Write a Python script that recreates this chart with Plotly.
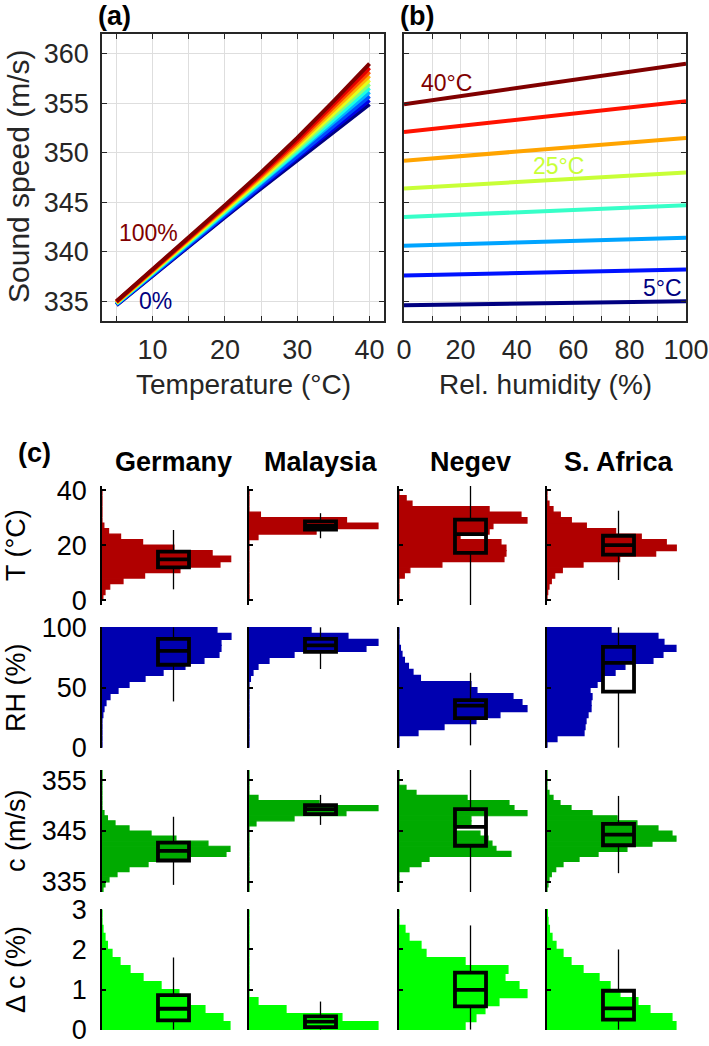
import plotly.graph_objects as go

W, H = 709, 1046
FONT = "Liberation Sans, Arial, sans-serif"
AXC = "#262626"

# ---------------- data: panels (a) and (b) ----------------
RH_LEVELS = [0, 10, 20, 30, 40, 50, 60, 70, 80, 90, 100]          # %
T_LEVELS = [5, 10, 15, 20, 25, 30, 35, 40]                         # degC
# sound speed (m/s): one row per RH level, one value per temperature
SPEED_BY_RH = [
    [334.60, 337.60, 340.60, 343.50, 346.40, 349.20, 352.10, 354.90],
    [334.64, 337.66, 340.68, 343.62, 346.56, 349.43, 352.41, 355.31],
    [334.68, 337.72, 340.76, 343.74, 346.72, 349.66, 352.72, 355.72],
    [334.72, 337.78, 340.84, 343.86, 346.88, 349.89, 353.03, 356.13],
    [334.76, 337.84, 340.92, 343.98, 347.04, 350.12, 353.34, 356.54],
    [334.80, 337.90, 341.00, 344.10, 347.20, 350.35, 353.65, 356.95],
    [334.84, 337.96, 341.08, 344.22, 347.36, 350.58, 353.96, 357.36],
    [334.88, 338.02, 341.16, 344.34, 347.52, 350.81, 354.27, 357.77],
    [334.92, 338.08, 341.24, 344.46, 347.68, 351.04, 354.58, 358.18],
    [334.96, 338.14, 341.32, 344.58, 347.84, 351.27, 354.89, 358.59],
    [335.00, 338.20, 341.40, 344.70, 348.00, 351.50, 355.20, 359.00],
]

# ---------------- data: panel (c) ----------------
COUNTRIES = ["Germany", "Malaysia", "Negev", "S. Africa"]

T_CENTERS = [1, 3, 5, 7, 9, 11, 13, 15, 17, 19, 21, 23, 25, 27, 29, 31, 33, 35, 37, 39]
T_HIST = {
    "Germany":   [0.6, 2.1, 5.4, 14.7, 29.8, 54.5, 82.5, 90, 77, 50.3, 28.4, 13, 4.6, 1.3, 0, 0, 0, 0, 0, 0],
    "Malaysia":  [0, 0, 0, 0, 0, 0, 0, 0, 0, 0, 0, 6.3, 46.9, 90.2, 68.2, 8, 0, 0, 0, 0],
    "Negev":     [0, 0, 0, 0, 3.7, 7.6, 30, 73.4, 74.8, 74.8, 71.3, 42.7, 63, 65.7, 89.5, 85.3, 63, 9.1, 5, 0],
    "S. Africa": [0, 0.5, 1.4, 3, 5.4, 10.7, 25.2, 50.8, 76, 90.4, 83.4, 65.9, 48, 27.5, 17, 9.3, 4.2, 1.4, 0, 0],
}
RH_CENTERS = [2.5, 7.5, 12.5, 17.5, 22.5, 27.5, 32.5, 37.5, 42.5, 47.5,
              52.5, 57.5, 62.5, 67.5, 72.5, 77.5, 82.5, 87.5, 92.5, 97.5]
RH_HIST = {
    "Germany":   [0, 0, 0, 0, 0, 0.6, 1.4, 2.8, 5.6, 11.2, 18.9, 30.1, 42.7, 58, 71.3, 81.8, 83.2, 83.2, 90.2, 80.4],
    "Malaysia":  [0, 0, 0, 0, 0, 0, 0, 0, 0, 0, 0, 1, 2.8, 6.3, 14, 31.5, 81.8, 90.2, 69.2, 43.4],
    "Negev":     [0, 0, 13.3, 31.5, 53.8, 70.6, 89.5, 86, 79.7, 54.5, 50.3, 15, 9.8, 6.6, 3.8, 2.1, 1, 0, 0, 0],
    "S. Africa": [0, 7, 25.9, 26.6, 27.3, 28.7, 30.8, 30.8, 31.5, 30.1, 35, 38.5, 47.6, 54.5, 74.1, 81.1, 90.2, 81.8, 77.6, 44.8],
}
C_CENTERS = [333.5 + i for i in range(24)]
C_HIST = {
    "Germany":   [0.7, 2.1, 4.9, 10.5, 18.9, 32.2, 60.8, 86.7, 89.5, 74.1, 51.7, 34.3, 18.9, 9.1, 3.8, 1.4,
                  0, 0, 0, 0, 0, 0, 0, 0],
    "Malaysia":  [0, 0, 0, 0, 0, 0, 0, 0, 0, 0, 0, 0, 0, 4.9, 31.5, 67.8, 90.2, 49, 6.3, 0, 0, 0, 0, 0],
    "Negev":     [0, 0, 0, 0, 7, 15.4, 21, 78.3, 67.8, 65, 62.2, 56.6, 37.8, 50.3, 50.3, 89.5, 80.4, 76.9,
                  47.6, 11.9, 4.9, 0, 0, 0],
    "S. Africa": [0, 0.7, 1.4, 3, 6.1, 11.2, 22.4, 35.7, 55.9, 73.4, 90.2, 87.4, 77.6, 62.9, 49, 31.5,
                  16.8, 9.1, 4.2, 1.4, 0, 0, 0, 0],
}
DC_CENTERS = [0.1, 0.3, 0.5, 0.7, 0.9, 1.1, 1.3, 1.5, 1.7, 1.9, 2.1, 2.3, 2.5, 2.7, 2.9]
DC_HIST = {
    "Germany":   [89.5, 84.6, 72, 60.1, 53.8, 41.3, 28.7, 19.6, 12.6, 7, 3.8, 2.1, 0.7, 0, 0],
    "Malaysia":  [90.2, 65, 25.9, 6.3, 0, 0, 0, 0, 0, 0, 0, 0, 0, 0, 0],
    "Negev":     [46.2, 53.8, 60.1, 69.9, 89.5, 83.9, 74.1, 76.2, 46.2, 18.9, 15.4, 7, 4.2, 0, 0],
    "S. Africa": [90.2, 87.4, 72, 63.6, 51, 44.1, 36.4, 25.2, 16.8, 11.2, 6.3, 3.5, 1.7, 0.7, 0.3],
}

# box statistics: [q1, median, q3, lower whisker, upper whisker]
T_BOX = {"Germany": [11.9, 14.8, 17.6, 3.9, 25.5], "Malaysia": [25.6, 27.0, 28.6, 22.5, 31.6],
         "Negev": [17.2, 24.0, 29.3, -1.8, 41.5], "S. Africa": [16.5, 20.0, 23.4, 7.3, 32.5]}
RH_BOX = {"Germany": [68.9, 80.5, 90.5, 38.4, 100], "Malaysia": [79.7, 85.1, 90.5, 65.4, 100],
          "Negev": [24.5, 35.0, 39.5, 1.9, 62.2], "S. Africa": [46.5, 70.5, 83.7, 0, 100]}
C_BOX = {"Germany": [339.2, 341.1, 342.7, 334.4, 347.8], "Malaysia": [348.3, 349.3, 350.1, 346.2, 352.1],
         "Negev": [342.1, 345.8, 349.3, 333.0, 357.0], "S. Africa": [342.2, 344.3, 346.4, 336.7, 351.9]}
DC_BOX = {"Germany": [0.23, 0.52, 0.86, 0, 1.8], "Malaysia": [0.06, 0.2, 0.33, 0, 0.7],
          "Negev": [0.58, 0.99, 1.42, 0, 2.6], "S. Africa": [0.25, 0.53, 0.97, 0, 2.0]}

ROW_LABELS = ["T (°C)", "RH (%)", "c (m/s)", "Δ c (%)"]
ROW_TICKS = [[0, 20, 40], [0, 50, 100], [335, 345, 355], [0, 1, 2, 3]]


# ---------------- helpers (style only) ----------------
def jet(t):
    def cl(v):
        return max(0.0, min(1.0, v))
    r = cl(1.5 - abs(4 * t - 3))
    g = cl(1.5 - abs(4 * t - 2))
    b = cl(1.5 - abs(4 * t - 1))
    return "rgb(%d,%d,%d)" % (round(r * 255), round(g * 255), round(b * 255))


def fx(px):
    return px / W


def fy(py):
    return 1 - py / H


fig = go.Figure()
layout = dict(
    width=W, height=H, margin=dict(l=0, r=0, t=0, b=0, autoexpand=False),
    paper_bgcolor="white", plot_bgcolor="white", showlegend=False,
    barmode="overlay", boxmode="overlay",
    font=dict(family=FONT, color=AXC, size=24),
)

TICK_SIZE = 27
grid_c = "#dedede"
common_ab = dict(showline=True, linecolor=AXC, linewidth=1.5, mirror="ticks",
                 ticks="inside", ticklen=5, tickcolor=AXC, tickwidth=1,
                 showgrid=True, gridcolor=grid_c, gridwidth=1, zeroline=False,
                 automargin=False, ticklabeloverflow="allow",
                 tickfont=dict(family=FONT, size=TICK_SIZE, color=AXC))

# panel (a)
layout["xaxis"] = dict(common_ab, domain=[fx(102), fx(384)], range=[3, 42], anchor="y",
                       tickmode="array", tickvals=[10, 20, 30, 40],
                       minor=dict(tickvals=[5, 15, 25, 35], showgrid=True, gridcolor=grid_c,
                                  ticks="inside", ticklen=5, tickcolor=AXC),
                       ticklabelstandoff=4)
layout["yaxis"] = dict(common_ab, domain=[fy(321), fy(34)], range=[333, 362], anchor="x",
                       tickmode="array", tickvals=[335, 340, 345, 350, 355, 360],
                       ticklabelstandoff=6)
# panel (b)
layout["xaxis2"] = dict(common_ab, domain=[fx(404), fx(686)], range=[0, 100], anchor="y2",
                        tickmode="array", tickvals=[0, 20, 40, 60, 80, 100],
                        minor=dict(tickvals=[10, 30, 50, 70, 90], showgrid=True, gridcolor=grid_c,
                                   ticks="inside", ticklen=5, tickcolor=AXC),
                        ticklabelstandoff=4)
layout["yaxis2"] = dict(common_ab, domain=[fy(321), fy(34)], range=[333, 362], anchor="x2",
                        tickmode="array", tickvals=[335, 340, 345, 350, 355, 360],
                        showticklabels=False)

for i, rh in enumerate(RH_LEVELS):
    fig.add_trace(go.Scatter(x=T_LEVELS, y=SPEED_BY_RH[i], mode="lines",
                             line=dict(color=jet(i / (len(RH_LEVELS) - 1)), width=4),
                             xaxis="x", yaxis="y", hoverinfo="skip"))
for j, t in enumerate(T_LEVELS):
    fig.add_trace(go.Scatter(x=RH_LEVELS, y=[row[j] for row in SPEED_BY_RH], mode="lines",
                             line=dict(color=jet(j / (len(T_LEVELS) - 1)), width=4),
                             xaxis="x2", yaxis="y2", hoverinfo="skip"))

ann = []
lab_font = dict(family=FONT, size=23)


def add_ann(**kw):
    kw.setdefault("showarrow", False)
    kw.setdefault("xanchor", "center")
    kw.setdefault("yanchor", "middle")
    ann.append(kw)


add_ann(x=9.45, y=341.9, xref="x", yref="y", text="100%", font=dict(lab_font, color=jet(1.0)))
add_ann(x=10.4, y=335.0, xref="x", yref="y", text="0%", font=dict(lab_font, color=jet(0.0)))
add_ann(x=14.9, y=357.0, xref="x2", yref="y2", text="40°C", font=dict(lab_font, color=jet(1.0)))
add_ann(x=54.8, y=348.7, xref="x2", yref="y2", text="25°C", font=dict(lab_font, color=jet(4 / 7)))
add_ann(x=91.8, y=336.3, xref="x2", yref="y2", text="5°C", font=dict(lab_font, color=jet(0.0)))

# panel (c)
col_left = [102, 249, 399, 547]
col_w = 143
row_dom = [(486, 605), (627, 748), (770, 892), (909, 1030)]
row_rng = [[-1.8, 41.5], [-0.3, 100.3], [333, 357], [-0.01, 3.01]]
row_color = ["#B00000", "#0000B0", "#00AA00", "#00FF00"]
row_centers = [T_CENTERS, RH_CENTERS, C_CENTERS, DC_CENTERS]
row_binw = [2, 5, 1, 0.2]
row_hist = [T_HIST, RH_HIST, C_HIST, DC_HIST]
row_box = [T_BOX, RH_BOX, C_BOX, DC_BOX]
BOX_POS, BOX_W = 50, 21.7

for r in range(4):
    for c, name in enumerate(COUNTRIES):
        k = 3 + r * 4 + c
        xa, ya = "x%d" % k, "y%d" % k
        layout["xaxis%d" % k] = dict(domain=[fx(col_left[c]), fx(col_left[c] + col_w)],
                                     range=[0, 100], anchor=ya, visible=False, fixedrange=True,
                                     automargin=False)
        layout["yaxis%d" % k] = dict(domain=[fy(row_dom[r][1]), fy(row_dom[r][0])],
                                     range=row_rng[r], anchor=xa, showline=True, linecolor="black",
                                     linewidth=1.5, ticks="inside", ticklen=4, tickwidth=1.5,
                                     tickcolor="black", showgrid=False, zeroline=False,
                                     tickmode="array", tickvals=ROW_TICKS[r], automargin=False,
                                     ticklabeloverflow="allow",
                                     showticklabels=(c == 0), ticklabelstandoff=8,
                                     tickfont=dict(family=FONT, size=TICK_SIZE, color="black"))
        fig.add_trace(go.Bar(y=row_centers[r], x=row_hist[r][name], orientation="h",
                             width=row_binw[r],
                             marker=dict(color=row_color[r], line=dict(width=1.2, color=row_color[r])),
                             xaxis=xa, yaxis=ya, hoverinfo="skip"))
        q1, med, q3, lo, hi = row_box[r][name]
        fig.add_trace(go.Scatter(x=[BOX_POS, BOX_POS, None, BOX_POS, BOX_POS],
                                 y=[lo, q1, None, q3, hi], mode="lines",
                                 line=dict(color="black", width=1.3),
                                 xaxis=xa, yaxis=ya, hoverinfo="skip"))
        fig.add_trace(go.Box(x=[BOX_POS], q1=[q1], median=[med], q3=[q3],
                             lowerfence=[q1], upperfence=[q3], width=BOX_W, orientation="v",
                             whiskerwidth=0, boxpoints=False,
                             line=dict(color="black", width=3.8), fillcolor="rgba(0,0,0,0)",
                             xaxis=xa, yaxis=ya, hoverinfo="skip"))

# titles and labels
bold = dict(family=FONT, size=27, color="black")
add_ann(x=fx(114), y=fy(16), xref="paper", yref="paper", text="<b>(a)</b>", font=bold)
add_ann(x=fx(417), y=fy(16), xref="paper", yref="paper", text="<b>(b)</b>", font=bold)
add_ann(x=fx(34), y=fy(453), xref="paper", yref="paper", text="<b>(c)</b>", font=bold)
title_font = dict(family=FONT, size=28, color=AXC)
add_ann(x=fx(18), y=fy(177), xref="paper", yref="paper", text="Sound speed (m/s)",
        textangle=-90, font=dict(family=FONT, size=30, color=AXC))
add_ann(x=fx(243), y=fy(384), xref="paper", yref="paper", text="Temperature (°C)", font=title_font)
add_ann(x=fx(545), y=fy(384), xref="paper", yref="paper", text="Rel. humidity (%)", font=title_font)
for c, name in enumerate(COUNTRIES):
    add_ann(x=fx(col_left[c] + col_w / 2), y=fy(462), xref="paper", yref="paper",
            text="<b>%s</b>" % name, font=bold)
row_lab_y = [545, 688, 831, 970]
for r in range(4):
    add_ann(x=fx(16), y=fy(row_lab_y[r]), xref="paper", yref="paper", text=ROW_LABELS[r],
            textangle=-90, font=dict(family=FONT, size=27, color="black"))

layout["annotations"] = ann
fig.update_layout(**layout)
fig.write_html("out.html", config={"displayModeBar": False},
               post_script="document.body.style.margin='0';document.body.style.overflow='hidden';")
